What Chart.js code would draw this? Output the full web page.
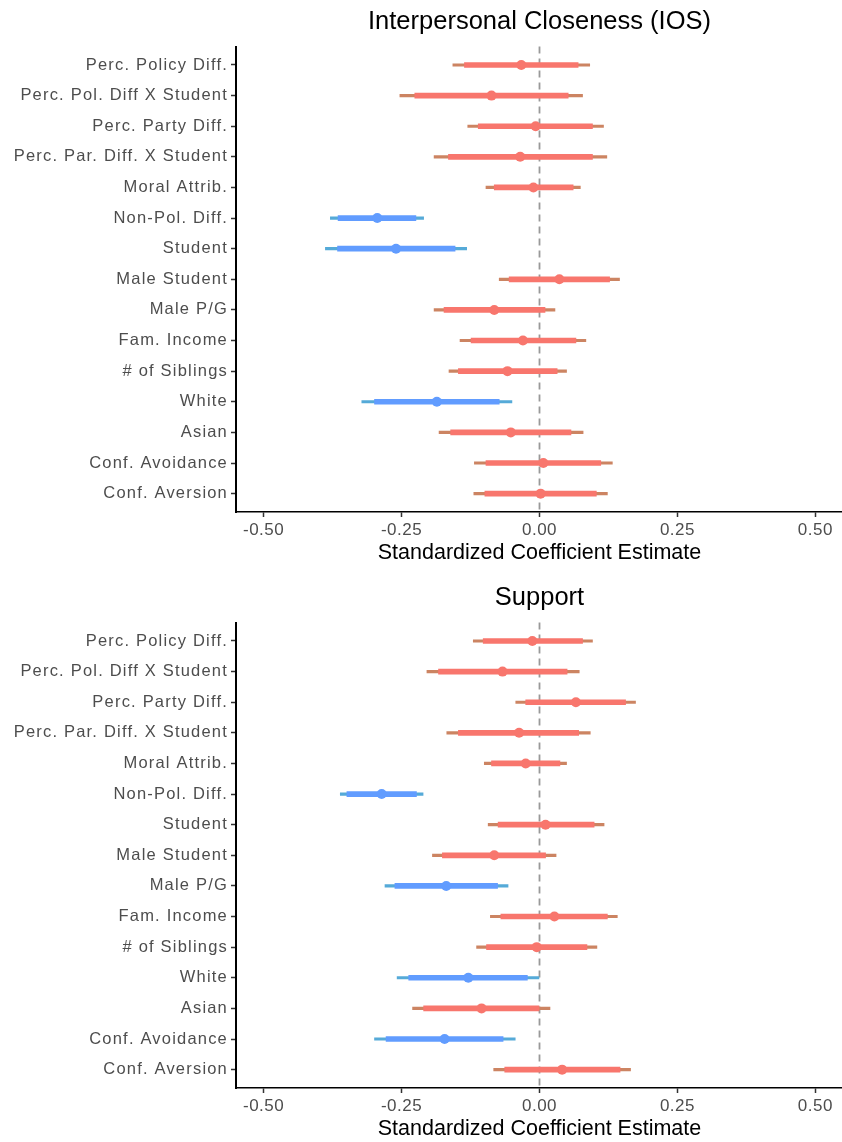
<!DOCTYPE html>
<html><head><meta charset="utf-8">
<script src="https://cdn.jsdelivr.net/npm/chart.js@4"></script>
<style>
html,body{margin:0;padding:0;background:#fff;overflow:hidden;width:842px;height:1142px}
canvas{position:absolute;left:0}
#c1{top:0} #c2{top:576px}
</style>
</head><body>
<canvas id="c1" width="848" height="575"></canvas>
<canvas id="c2" width="848" height="575"></canvas>
<script>
const labels=['Perc. Policy Diff.','Perc. Pol. Diff X Student','Perc. Party Diff.','Perc. Par. Diff. X Student','Moral Attrib.','Non-Pol. Diff.','Student','Male Student','Male P/G','Fam. Income','# of Siblings','White','Asian','Conf. Avoidance','Conf. Aversion'];
const xTicks=[-0.5,-0.25,0,0.25,0.5];

// Interpersonal Closeness (IOS): estimate, outer interval, inner interval
const iosEst=[-0.033,-0.087,-0.007,-0.035,-0.011,-0.294,-0.260,0.036,-0.082,-0.030,-0.058,-0.186,-0.052,0.007,0.002];
const iosLo=[-0.157,-0.253,-0.130,-0.191,-0.097,-0.379,-0.388,-0.073,-0.191,-0.144,-0.164,-0.322,-0.182,-0.118,-0.119];
const iosHi=[0.091,0.078,0.116,0.122,0.074,-0.210,-0.132,0.145,0.028,0.084,0.049,-0.050,0.079,0.132,0.123];
const iosLoIn=[-0.136,-0.226,-0.111,-0.165,-0.082,-0.365,-0.366,-0.055,-0.173,-0.124,-0.147,-0.299,-0.161,-0.097,-0.099];
const iosHiIn=[0.070,0.052,0.096,0.096,0.061,-0.224,-0.153,0.127,0.010,0.066,0.032,-0.073,0.057,0.111,0.103];

// Support
const supEst=[-0.013,-0.067,0.066,-0.037,-0.025,-0.286,0.011,-0.082,-0.169,0.027,-0.005,-0.129,-0.105,-0.172,0.041];
const supLo=[-0.120,-0.204,-0.043,-0.168,-0.100,-0.361,-0.093,-0.194,-0.280,-0.089,-0.114,-0.258,-0.230,-0.299,-0.083];
const supHi=[0.096,0.072,0.174,0.092,0.049,-0.211,0.117,0.030,-0.057,0.141,0.104,-0.001,0.019,-0.044,0.165];
const supLoIn=[-0.102,-0.183,-0.025,-0.147,-0.087,-0.349,-0.075,-0.176,-0.262,-0.070,-0.096,-0.237,-0.210,-0.278,-0.063];
const supHiIn=[0.078,0.050,0.156,0.071,0.037,-0.223,0.099,0.011,-0.076,0.123,0.086,-0.022,0.000,-0.066,0.146];

const FONT='"Liberation Sans", Arial, sans-serif';
const RED='#F8766D', BLUE='#619CFF', RED_THIN='#CC8462', BLUE_THIN='#55AAD8';

// canvas letter spacing for tick labels only
function spaced(px){
  return function(s){
    if(s._sp) return; s._sp=true;
    const orig=s.drawLabels;
    s.drawLabels=function(a){this.ctx.save(); this.ctx.letterSpacing=px; orig.call(this,a); this.ctx.restore();};
  };
}

const zeroLine={id:'zeroLine', beforeDatasetsDraw(c){
  const x=c.scales.x.getPixelForValue(0), a=c.chartArea, ctx=c.ctx;
  ctx.save(); ctx.strokeStyle='#999'; ctx.lineWidth=1.8; ctx.setLineDash([7,5]);
  ctx.beginPath(); ctx.moveTo(x,a.top); ctx.lineTo(x,a.bottom); ctx.stroke(); ctx.restore();
}};

function makeChart(id,title,est,lo,hi,loIn,hiIn){
  const sig=lo.map((l,i)=>hi[i]<0||l>0);
  const col=sig.map(s=>s?BLUE:RED), colThin=sig.map(s=>s?BLUE_THIN:RED_THIN);
  return new Chart(document.getElementById(id),{
    type:'bar',
    data:{datasets:[
      {data:lo.map((v,i)=>({x:[v,hi[i]],y:i})),backgroundColor:colThin,barThickness:2.5,grouped:false,borderWidth:0,order:3},
      {data:loIn.map((v,i)=>({x:[v,hiIn[i]],y:i})),backgroundColor:col,barThickness:5,grouped:false,borderWidth:0,order:2},
      {type:'scatter',data:est.map((v,i)=>({x:v,y:i})),pointBackgroundColor:col,pointBorderColor:col,pointBorderWidth:0,pointRadius:5,order:1}
    ]},
    options:{indexAxis:'y',responsive:false,animation:false,events:[],devicePixelRatio:1,
      layout:{padding:{left:0,right:2,top:0,bottom:0}},
      plugins:{legend:{display:false},tooltip:{enabled:false},
        title:{display:true,text:title,fullSize:false,color:'#000',font:{family:FONT,size:25.5,weight:'normal'},padding:{top:7,bottom:9}}},
      scales:{
        x:{type:'linear',min:-0.55,max:0.55,offset:false,
          afterBuildTicks:s=>{s.ticks=xTicks.map(v=>({value:v}))},
          afterFit:s=>{s.height=63}, afterUpdate:spaced('0.5px'),
          ticks:{callback:v=>v.toFixed(2),color:'#4d4d4d',font:{family:FONT,size:17},padding:3,maxRotation:0},
          grid:{display:true,offset:false,drawOnChartArea:false,tickLength:5,tickColor:'#333',tickWidth:1.5},
          border:{color:'#000',width:1.5},
          title:{display:true,text:'Standardized Coefficient Estimate',color:'#000',font:{family:FONT,size:21.5},padding:{top:0,bottom:9}}},
        y:{type:'linear',reverse:true,min:-0.6,max:labels.length-0.4,offset:false,
          afterBuildTicks:s=>{s.ticks=labels.map((l,i)=>({value:i}))},
          afterFit:s=>{s.width=236}, afterUpdate:spaced('1.2px'),
          ticks:{callback:v=>labels[v],color:'#4d4d4d',font:{family:FONT,size:16.5},padding:3,autoSkip:false},
          grid:{display:true,offset:false,drawOnChartArea:false,tickLength:5,tickColor:'#333',tickWidth:1.5},
          border:{color:'#000',width:2}}
      }
    },
    plugins:[zeroLine]
  });
}

makeChart('c1','Interpersonal Closeness (IOS)',iosEst,iosLo,iosHi,iosLoIn,iosHiIn);
makeChart('c2','Support',supEst,supLo,supHi,supLoIn,supHiIn);
</script>
</body></html>
